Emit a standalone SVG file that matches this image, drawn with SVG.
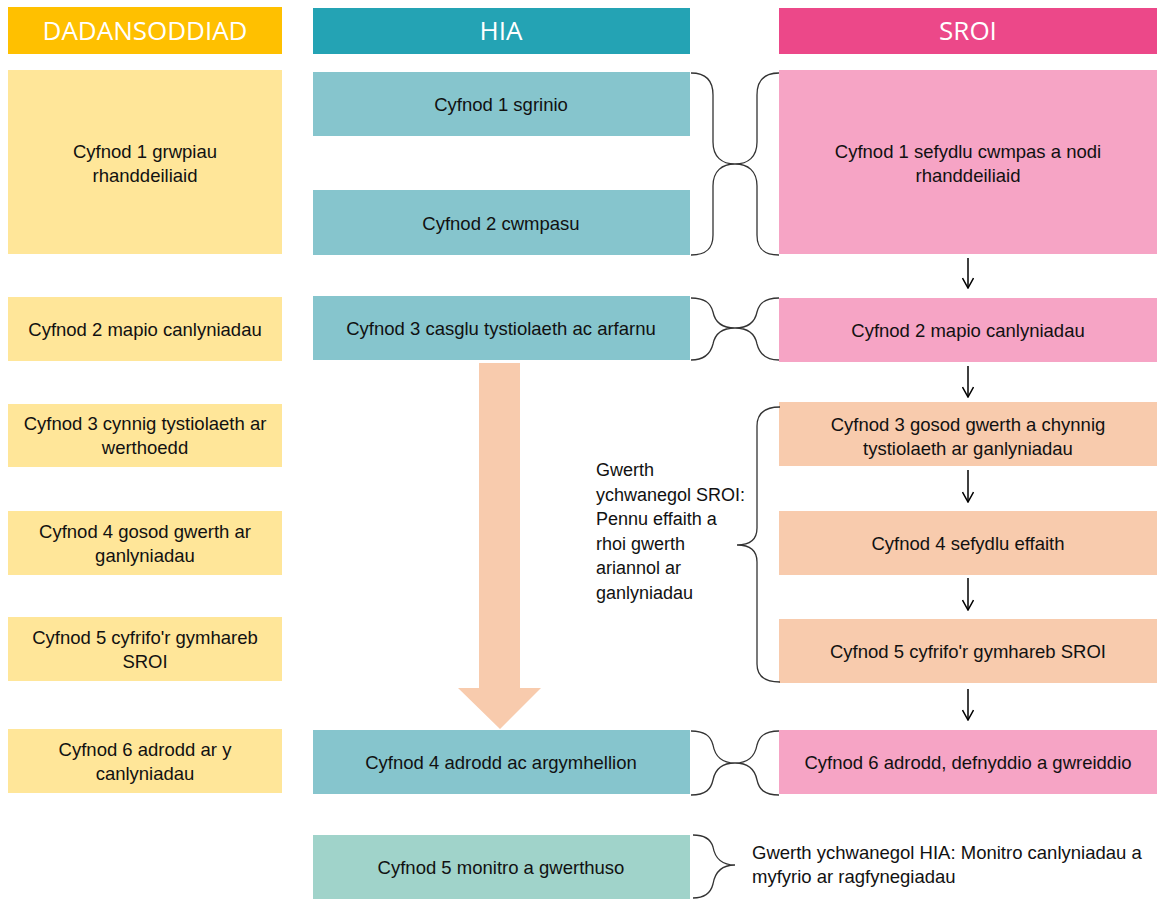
<svg xmlns="http://www.w3.org/2000/svg" width="1157" height="900" viewBox="0 0 1157 900">
<defs>
<style>
.hd{font-family:"Open Sans","Liberation Sans",sans-serif;font-size:26px;fill:#fff;text-anchor:middle}
.t{font-family:"Liberation Sans",Arial,sans-serif;font-size:18.5px;fill:#111;text-anchor:middle}
.tl{font-family:"Liberation Sans",Arial,sans-serif;font-size:18px;fill:#111}
.y{fill:#FFE699}
.h{fill:#86C5CD}
.h5{fill:#A0D3CA}
.p{fill:#F6A4C5}
.o{fill:#F8CBAD}
.br{fill:none;stroke:#333;stroke-width:1.3}
.ar{fill:none;stroke:#000;stroke-width:1.5}
</style>
<marker id="ah" viewBox="0 0 12 12" refX="11" refY="6" markerWidth="12" markerHeight="12" markerUnits="userSpaceOnUse" orient="auto">
<path d="M1,0.5 L11,6 L1,11.5" fill="none" stroke="#000" stroke-width="1.5"/>
</marker>
</defs>
<rect width="1157" height="900" fill="#fff"/>

<g id="headers">
<g id="h-dad"><rect x="8" y="7" width="274" height="47" fill="#FFC000"/><text class="hd" x="145" y="40">DADANSODDIAD</text></g>
<g id="h-hia"><rect x="313" y="8" width="377" height="46" fill="#24A3B4"/><text class="hd" x="501" y="40">HIA</text></g>
<g id="h-sroi"><rect x="779" y="8" width="378" height="46" fill="#EC4889"/><text class="hd" x="968" y="40">SROI</text></g>
</g>

<g id="dad">
<g id="d1"><rect class="y" x="8" y="70" width="274" height="184"/><text class="t" x="145" y="158">Cyfnod 1 grwpiau</text><text class="t" x="145" y="182">rhanddeiliaid</text></g>
<g id="d2"><rect class="y" x="8" y="297" width="274" height="64"/><text class="t" x="145" y="336">Cyfnod 2 mapio canlyniadau</text></g>
<g id="d3"><rect class="y" x="8" y="404" width="274" height="63"/><text class="t" x="145" y="430">Cyfnod 3 cynnig tystiolaeth ar</text><text class="t" x="145" y="454">werthoedd</text></g>
<g id="d4"><rect class="y" x="8" y="511" width="274" height="64"/><text class="t" x="145" y="538">Cyfnod 4 gosod gwerth ar</text><text class="t" x="145" y="562">ganlyniadau</text></g>
<g id="d5"><rect class="y" x="8" y="617" width="274" height="64"/><text class="t" x="145" y="644">Cyfnod 5 cyfrifo'r gymhareb</text><text class="t" x="145" y="668">SROI</text></g>
<g id="d6"><rect class="y" x="8" y="729" width="274" height="64"/><text class="t" x="145" y="756">Cyfnod 6 adrodd ar y</text><text class="t" x="145" y="780">canlyniadau</text></g>
</g>

<g id="hia">
<g id="a1"><rect class="h" x="313" y="72" width="377" height="64"/><text class="t" x="501" y="111">Cyfnod 1 sgrinio</text></g>
<g id="a2"><rect class="h" x="313" y="190" width="377" height="65"/><text class="t" x="501" y="230">Cyfnod 2 cwmpasu</text></g>
<g id="a3"><rect class="h" x="313" y="296" width="377" height="64"/><text class="t" x="501" y="335">Cyfnod 3 casglu tystiolaeth ac arfarnu</text></g>
<g id="a4"><rect class="h" x="313" y="730" width="377" height="64"/><text class="t" x="501" y="769">Cyfnod 4 adrodd ac argymhellion</text></g>
<g id="a5"><rect class="h5" x="313" y="835" width="377" height="64"/><text class="t" x="501" y="874">Cyfnod 5 monitro a gwerthuso</text></g>
</g>

<g id="sroi">
<g id="s1"><rect class="p" x="779" y="70" width="378" height="184"/><text class="t" x="968" y="158">Cyfnod 1 sefydlu cwmpas a nodi</text><text class="t" x="968" y="182">rhanddeiliaid</text></g>
<g id="s2"><rect class="p" x="779" y="298" width="378" height="64"/><text class="t" x="968" y="337">Cyfnod 2 mapio canlyniadau</text></g>
<g id="s3"><rect class="o" x="779" y="402" width="378" height="64"/><text class="t" x="968" y="431">Cyfnod 3 gosod gwerth a chynnig</text><text class="t" x="968" y="455">tystiolaeth ar ganlyniadau</text></g>
<g id="s4"><rect class="o" x="779" y="511" width="378" height="64"/><text class="t" x="968" y="550">Cyfnod 4 sefydlu effaith</text></g>
<g id="s5"><rect class="o" x="779" y="619" width="378" height="64"/><text class="t" x="968" y="658">Cyfnod 5 cyfrifo'r gymhareb SROI</text></g>
<g id="s6"><rect class="p" x="779" y="730" width="378" height="64"/><text class="t" x="968" y="769">Cyfnod 6 adrodd, defnyddio a gwreiddio</text></g>
</g>

<g id="notes">
<g id="note-sroi">
<text class="tl" x="596" y="476">Gwerth</text>
<text class="tl" x="596" y="500.5">ychwanegol SROI:</text>
<text class="tl" x="596" y="525">Pennu effaith a</text>
<text class="tl" x="596" y="549.5">rhoi gwerth</text>
<text class="tl" x="596" y="574">ariannol ar</text>
<text class="tl" x="596" y="598.5">ganlyniadau</text>
</g>
<g id="note-hia">
<text class="t" x="752" y="859" style="text-anchor:start">Gwerth ychwanegol HIA: Monitro canlyniadau a</text>
<text class="t" x="752" y="883" style="text-anchor:start">myfyrio ar ragfynegiadau</text>
</g>
</g>

<g id="connectors">
<polygon id="big-arrow" points="479,363 520,363 520,688 541,688 500,729 458,688 479,688" fill="#F8CBAD"/>
<line class="ar" x1="968" y1="258" x2="968" y2="288" marker-end="url(#ah)"/>
<line class="ar" x1="968" y1="366" x2="968" y2="397" marker-end="url(#ah)"/>
<line class="ar" x1="968" y1="470" x2="968" y2="502" marker-end="url(#ah)"/>
<line class="ar" x1="968" y1="578" x2="968" y2="610" marker-end="url(#ah)"/>
<line class="ar" x1="968" y1="689" x2="968" y2="720" marker-end="url(#ah)"/>
<path class="br" d="M691,73 C706,73 713,80 713,95 L713,142 C713,157 722,164 735,164 C722,164 713,171 713,186 L713,235 C713,249 706,255 691,255"/>
<path class="br" d="M779,73 C764,73 757,80 757,95 L757,142 C757,157 748,164 735,164 C748,164 757,171 757,186 L757,235 C757,249 764,255 779,255"/>
<path class="br" d="M691,298 C706,298 711,304 713,312 C715,322 722,328 735,328 C722,328 715,334 713,344 C711,352 706,360 691,360"/>
<path class="br" d="M779,298 C764,298 759,304 757,312 C755,322 748,328 735,328 C748,328 755,334 757,344 C759,352 764,360 779,360"/>
<path class="br" d="M691,731 C706,731 711,737 713,745 C715,756 722,763 735,763 C722,763 715,770 713,780 C711,789 706,795 691,795"/>
<path class="br" d="M779,731 C764,731 759,737 757,745 C755,756 748,763 735,763 C748,763 755,770 757,780 C759,789 764,795 779,795"/>
<path class="br" d="M780,407 C765,407 757,413 757,426 L757,528 C757,540 750,545 737,545 C750,545 757,550 757,562 L757,664 C757,676 765,682 780,682"/>
<path class="br" d="M693,835 C706,835 711,840 713,847 C715,858 722,865 735,865 C722,865 715,872 713,884 C711,892 706,898 693,898"/>
</g>
</svg>
